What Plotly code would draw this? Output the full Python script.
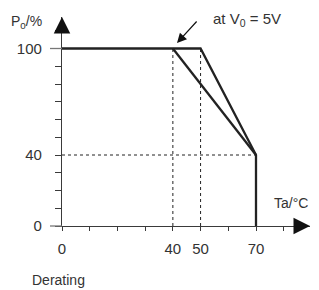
import plotly.graph_objects as go

# ---- data ----
temp_curve_a = [0, 50, 70, 70]        # derating at V0 = 5V
power_curve_a = [100, 100, 40, 0]
temp_curve_b = [40, 70]               # second derating line
power_curve_b = [100, 40]
guide_temps = [40, 50]
guide_power = 40
x_ticks = [0, 10, 20, 30, 40, 50, 60, 70, 80]
x_tick_labels = ["0", "", "", "", "40", "50", "", "70", ""]
y_ticks = [0, 10, 20, 30, 40, 50, 60, 70, 80, 90, 100, 110]
y_tick_labels = ["0", "", "", "", "40", "", "", "", "", "", "100", ""]

# page has an 8px body margin
OFF = 8
W, H = 303, 282
ML, MB, MT, MR = 54, 64, 9, 1
PW, PH = W - ML - MR, H - MB - MT
X_MAX = PW / 2.7714
Y_MAX = PH / 1.775


def px(x):   # page pixel -> paper x
    return (x - OFF - ML) / PW


def py(y):   # page pixel -> paper y
    return (H - MB - (y - OFF)) / PH


INK = "#222222"
AX = "#3a3a3a"
FONT = "Liberation Sans, Arial, sans-serif"

fig = go.Figure()

for t in guide_temps:
    fig.add_trace(go.Scatter(x=[t, t], y=[0, 100], mode="lines",
                             line=dict(color=INK, width=1, dash="3px,3px"),
                             hoverinfo="skip", showlegend=False))
fig.add_trace(go.Scatter(x=[0, 70], y=[guide_power, guide_power], mode="lines",
                         line=dict(color=INK, width=1, dash="3px,3px"),
                         hoverinfo="skip", showlegend=False))

fig.add_trace(go.Scatter(x=temp_curve_a, y=power_curve_a, mode="lines",
                         line=dict(color=INK, width=2.3),
                         hoverinfo="skip", showlegend=False))
fig.add_trace(go.Scatter(x=temp_curve_b, y=power_curve_b, mode="lines",
                         line=dict(color=INK, width=2.3),
                         hoverinfo="skip", showlegend=False))

fig.update_layout(
    width=W, height=H,
    margin=dict(l=ML, r=MR, t=MT, b=MB, autoexpand=False),
    paper_bgcolor="white", plot_bgcolor="white",
    font=dict(family=FONT, size=15, color="#333333"),
    xaxis=dict(range=[0, X_MAX], showgrid=False, zeroline=False,
               showline=True, linecolor=AX, linewidth=1.3,
               ticks="outside", ticklen=4, tickwidth=1.3, tickcolor=AX,
               tickvals=x_ticks, ticktext=x_tick_labels,
               ticklabelstandoff=5, fixedrange=True, automargin=False),
    yaxis=dict(range=[0, Y_MAX], showgrid=False, zeroline=False,
               showline=True, linecolor=AX, linewidth=1.3,
               ticks="outside", ticklen=6, tickwidth=1.3, tickcolor=AX,
               tickvals=y_ticks, ticktext=y_tick_labels,
               ticklabelstandoff=10, fixedrange=True, automargin=False),
)

# left extensions of the 0 and 100 lines
for v in [0, 100]:
    fig.add_shape(type="line", xref="paper", yref="paper",
                  x0=px(50), x1=0, y0=v / Y_MAX, y1=v / Y_MAX,
                  line=dict(color="#777777", width=1.3))

# axis arrowheads
fig.add_annotation(x=1, y=0, xref="paper", yref="paper", ax=-6, ay=0,
                   text="", showarrow=True, arrowhead=2, arrowsize=2.2,
                   arrowwidth=1.5, arrowcolor="#111111")
fig.add_annotation(x=0, y=1, xref="paper", yref="paper", ax=0, ay=6,
                   text="", showarrow=True, arrowhead=2, arrowsize=2.2,
                   arrowwidth=1.5, arrowcolor="#111111")

# callout arrow
fig.add_annotation(x=px(177), y=py(43), xref="paper", yref="paper",
                   ax=21, ay=-23, text="", showarrow=True, arrowhead=2,
                   arrowsize=1.6, arrowwidth=1.2, arrowcolor="#111111")

# texts
fig.add_annotation(x=px(211), y=py(20), xref="paper", yref="paper",
                   xanchor="left", yanchor="middle", showarrow=False,
                   text="at V<sub>0</sub> = 5V", font=dict(size=15))
fig.add_annotation(x=px(44), y=py(22), xref="paper", yref="paper",
                   xanchor="right", yanchor="middle", showarrow=False,
                   text="P<sub>0</sub>/%", font=dict(size=14))
fig.add_annotation(x=px(310), y=py(203), xref="paper", yref="paper",
                   xanchor="right", yanchor="middle", showarrow=False,
                   text="Ta/°C", font=dict(size=14))
fig.add_annotation(x=px(30), y=py(280), xref="paper", yref="paper",
                   xanchor="left", yanchor="middle", showarrow=False,
                   text="Derating", font=dict(size=14))

fig.write_html("out.html")
